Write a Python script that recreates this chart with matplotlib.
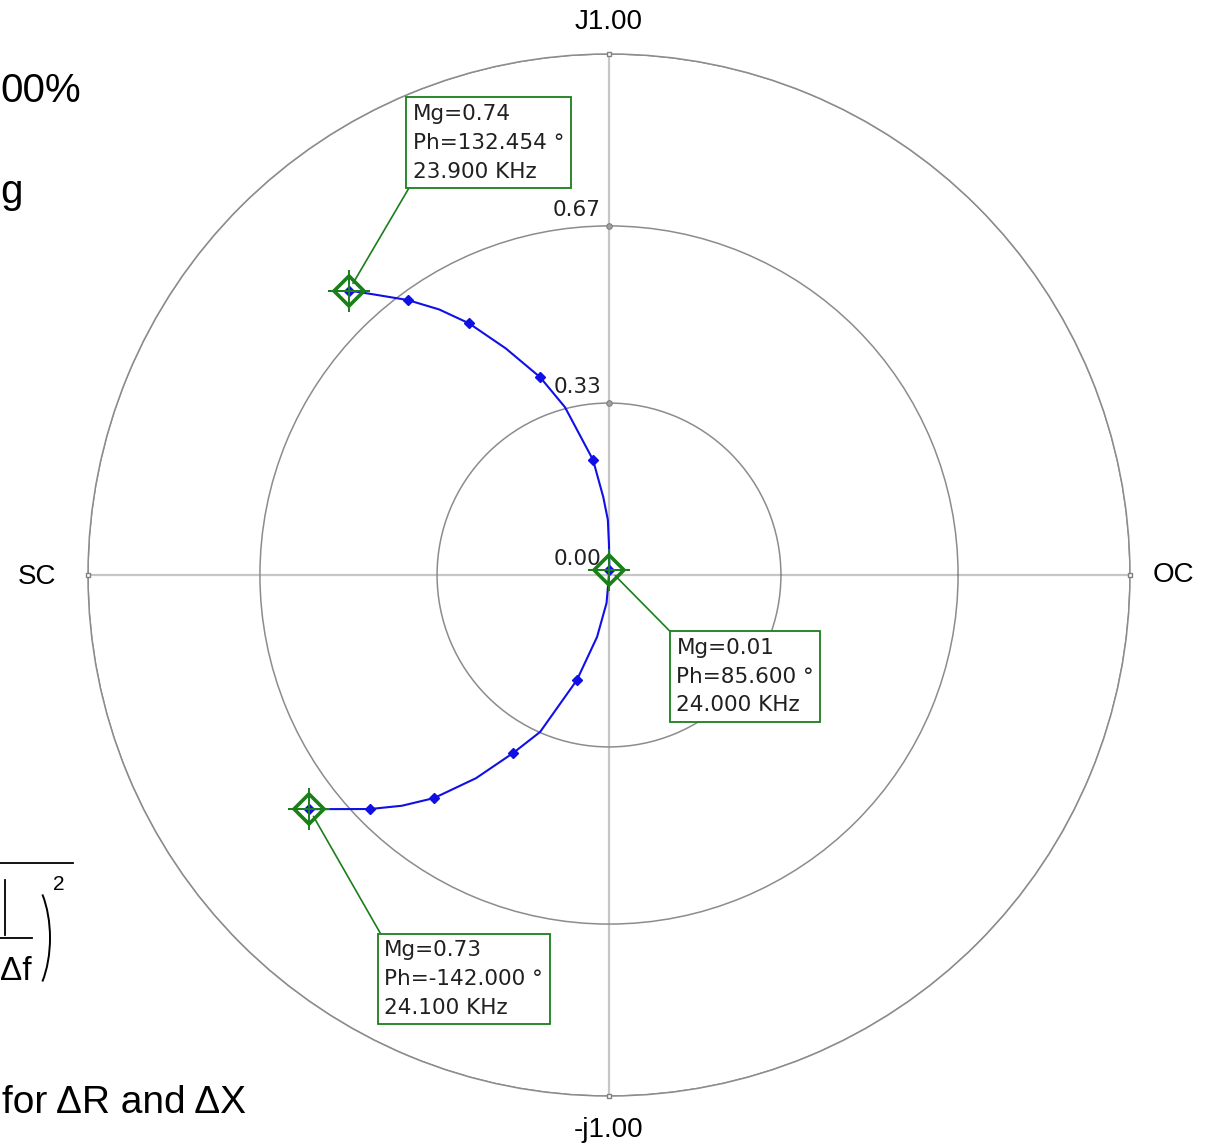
import numpy as np
import matplotlib.pyplot as plt
from matplotlib.patches import Arc
from matplotlib.lines import Line2D

W, H = 1205, 1148

# trace: magnitude and phase (deg), 23.9 -> 24.1 kHz
curve_mg = [0.74, 0.706, 0.654, 0.605, 0.553, 0.478, 0.402, 0.333, 0.223, 0.150,
            0.106, 0.058, 0.01, 0.054, 0.121, 0.211, 0.329, 0.388, 0.466, 0.544,
            0.595, 0.642, 0.73]
curve_ph = [132.454, 130.2, 126.2, 122.6, 119.1, 114.5, 109.2, 104.7, 97.9, 94.2,
            91.2, 90.0, 85.6, -95.0, -100.9, -107.0, -113.7, -118.3, -123.2, -128.1,
            -131.9, -135.6, -142.0]

# sample points (every 0.02 kHz)
dot_mg = [0.74, 0.654, 0.553, 0.402, 0.223, 0.01, 0.211, 0.388, 0.544, 0.642, 0.73]
dot_ph = [132.454, 126.2, 119.1, 109.2, 97.9, 85.6, -107.0, -118.3, -128.1, -135.6, -142.0]

# cursor markers
marker_mg = [0.74, 0.01, 0.73]
marker_ph = [132.454, 85.6, -142.0]
marker_khz = [23.900, 24.000, 24.100]

ring_vals = [0.33, 0.67, 1.00]
ring_labels = ["0.00", "0.33", "0.67"]
ring_label_pos = [0.0, 0.33, 0.67]
axis_labels = ["OC", "J1.00", "SC", "-j1.00"]
axis_angles = [0, 90, 180, 270]

blue = "#1010e6"
green = "#1a7f1a"

fig = plt.figure(figsize=(W / 100, H / 100), dpi=100)

def fx(x):
    return x / W

def fy(y):
    return 1 - y / H

# polar chart: centre (609, 575), radius 521 px
R = 521
ax = fig.add_axes([fx(609 - R), fy(575 + R), 2 * R / W, 2 * R / H], projection="polar")
ax.set_ylim(0, 1.0)
ax.set_yticks(ring_vals)
ax.set_yticklabels([])
ax.set_xticks(np.radians(axis_angles))
ax.set_xticklabels([])
ax.yaxis.grid(True, color="#8c8c8c", lw=1.1)
ax.xaxis.grid(True, color="#c6c6c6", lw=1.6)
ax.spines["polar"].set_color("#8c8c8c")
ax.spines["polar"].set_linewidth(1.1)
ax.tick_params(length=0)

# small square ticks on the axes
ax.plot(np.radians(axis_angles), [1.0] * 4, ls="none", marker="s", ms=3.5,
        mfc="white", mec="#808080", mew=1, clip_on=False, zorder=3)
ax.plot(np.radians([90, 90]), ring_vals[:2], ls="none", marker="o", ms=4,
        mfc="#a0a0a0", mec="#808080", mew=0.8, zorder=3)

# ring value labels along the +j axis
for lab, r in zip(ring_labels, ring_label_pos):
    ax.annotate(lab, xy=(np.pi / 2, r), xytext=(-8, 16), textcoords="offset pixels",
                ha="right", va="center", fontsize=15.5, color="#202020",
                family="DejaVu Sans", annotation_clip=False)

# end labels
label_offsets = [(43, 0), (0, 32), (-51, -2), (0, -34)]
for lab, ang, off in zip(axis_labels, axis_angles, label_offsets):
    ax.annotate(lab, xy=(np.radians(ang), 1.0), xytext=off, textcoords="offset pixels",
                ha="center", va="center", fontsize=20, family="Liberation Sans",
                annotation_clip=False)

# trace
th = np.radians(curve_ph)
ax.plot(th, curve_mg, color=blue, lw=1.5, zorder=4)
ax.plot(np.radians(dot_ph), dot_mg, ls="none", marker="D", ms=5.5, color=blue, zorder=5)

# cursor markers and readout boxes
mth = np.radians(marker_ph)
ax.plot(mth, marker_mg, ls="none", marker="D", ms=15, mfc="none", mec=green, mew=2.6, zorder=6)
ax.plot(mth, marker_mg, ls="none", marker="+", ms=30, mec=green, mew=1.4, zorder=6)

box_offsets = [(64, 109, "bottom", (0, 0)), (67, -68, "top", (0, 1)), (75, -131, "top", (0, 1))]
for mg, ph, f, (dx, dy, va, rp) in zip(marker_mg, marker_ph, marker_khz, box_offsets):
    txt = f"Mg={mg:.2f}\nPh={ph:.3f} °\n{f:.3f} KHz"
    ax.annotate(txt, xy=(np.radians(ph), mg), xytext=(dx, dy), textcoords="offset pixels",
                ha="left", va=va, fontsize=15.5, family="DejaVu Sans", color="#202020",
                linespacing=1.55, annotation_clip=False, zorder=7,
                bbox=dict(boxstyle="square,pad=0.3", fc="white", ec=green, lw=1.3),
                arrowprops=dict(arrowstyle="-", color=green, lw=1.2, relpos=rp,
                                shrinkA=0, shrinkB=6))

# slide text at the left edge
fig.text(fx(0), fy(102), "00%", fontsize=29, family="Liberation Sans", va="baseline")
fig.text(fx(0), fy(203), "g", fontsize=29, family="Liberation Sans", va="baseline")
fig.text(fx(2), fy(1113), "for \u0394R and \u0394X", fontsize=28, family="Liberation Sans",
         va="baseline")
fig.text(fx(0), fy(980), "\u0394f", fontsize=24, family="Liberation Sans", va="baseline")
fig.text(fx(53), fy(890), "2", fontsize=15, family="Liberation Sans", va="baseline")
fig.add_artist(Line2D([fx(0), fx(73)], [fy(863), fy(863)], color="black", lw=1.3,
                      transform=fig.transFigure))
fig.add_artist(Line2D([fx(0), fx(32)], [fy(938), fy(938)], color="black", lw=1.3,
                      transform=fig.transFigure))
fig.add_artist(Line2D([fx(5), fx(5)], [fy(880), fy(935)], color="black", lw=1.3,
                      transform=fig.transFigure))
fig.add_artist(Arc((fx(16), fy(938)), 68 / W, 138 / H, theta1=-60, theta2=60,
                   color="black", lw=1.4, transform=fig.transFigure))

fig.savefig("out.png", dpi=100)
